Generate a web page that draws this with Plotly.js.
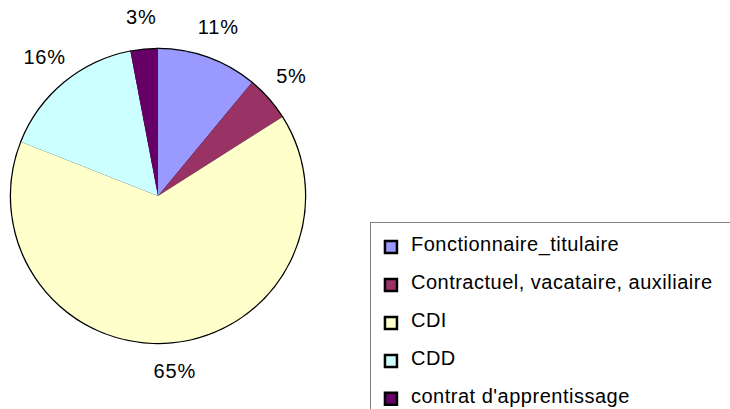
<!DOCTYPE html>
<html>
<head>
<meta charset="utf-8">
<script src="https://cdn.plot.ly/plotly-3.0.1.min.js"></script>
<style>html,body{margin:0;padding:0;background:#fff;}#chart{width:730px;height:409px;}</style>
</head>
<body>
<div id="chart"></div>
<script>
// Data
const categories = ["Fonctionnaire_titulaire", "Contractuel, vacataire, auxiliaire", "CDI", "CDD", "contrat d'apprentissage"];
const shares = [11, 5, 65, 16, 3];
const sliceColors = ["#9999FF", "#993366", "#FFFFCC", "#CCFFFF", "#660066"];

const W = 730, H = 409;
const FONT = "'Liberation Sans', Arial, sans-serif";
const legendLabels = categories.map(c => '<span style="font-size:20px;baseline-shift:6px;letter-spacing:0.5px">' + c + '&nbsp;&nbsp;&nbsp;</span>');

const pieDomain = {x: [0.0151, 0.4178], y: [0.1614, 0.8802]};
// pie geometry as Plotly derives it from the domain (margins are 0)
const pieR = Math.min(W * (pieDomain.x[1] - pieDomain.x[0]), H * (pieDomain.y[1] - pieDomain.y[0])) / 2;
const pieCx = W * (pieDomain.x[0] + pieDomain.x[1]) / 2;
const pieCy = H * (pieDomain.y[0] + pieDomain.y[1]) / 2; // from bottom

// mid-angle of every slice (clockwise from 12 o'clock), derived from the data
const total = shares.reduce((a, b) => a + b, 0);
let acc = 0;
const midAngles = shares.map(v => { const m = (acc + v / 2) / total * 2 * Math.PI; acc += v; return m; });
const pctText = shares.map(v => '<span style="letter-spacing:0.8px">' + Math.round(v / total * 100) + '%</span>');
const labelRadius = 1.21; // in pie radii

const common = {
  type: 'pie',
  labels: legendLabels,
  values: shares,
  sort: false,
  direction: 'clockwise',
  rotation: 0,
  hoverinfo: 'none',
  domain: pieDomain,
  textinfo: 'none'
};

// Outline layer (also provides the legend entries)
const outline = Object.assign({}, common, {
  marker: {colors: sliceColors, line: {color: '#000000', width: 2.5}},
  showlegend: true
});
// Fill layer without radial borders
const fill = Object.assign({}, common, {
  marker: {colors: sliceColors, line: {width: 0}},
  showlegend: false
});
// Percent labels on hidden cartesian axes scaled in pie radii around the pie centre
const labelsTrace = {
  type: 'scatter',
  mode: 'text',
  x: midAngles.map(a => labelRadius * Math.sin(a)),
  y: midAngles.map(a => labelRadius * Math.cos(a)),
  text: pctText,
  textposition: 'middle center',
  textfont: {family: FONT, size: 20, color: '#000000'},
  cliponaxis: false,
  showlegend: false,
  hoverinfo: 'none'
};

const layout = {
  width: W,
  height: H,
  margin: {l: 0, r: 0, t: 0, b: 0, autoexpand: false},
  paper_bgcolor: '#ffffff',
  plot_bgcolor: 'rgba(0,0,0,0)',
  font: {family: FONT, color: '#000000'},
  showlegend: true,
  xaxis: {range: [-pieCx / pieR, (W - pieCx) / pieR], visible: false, showgrid: false, zeroline: false, fixedrange: true},
  yaxis: {range: [-pieCy / pieR, (H - pieCy) / pieR], visible: false, showgrid: false, zeroline: false, fixedrange: true},
  legend: {
    x: 0.5068, xanchor: 'left',
    y: 0.4572, yanchor: 'top',
    bgcolor: '#ffffff',
    bordercolor: '#808080',
    borderwidth: 1,
    font: {family: FONT, size: 26.9, color: '#000000'},
    traceorder: 'normal'
  }
};

Plotly.newPlot('chart', [outline, fill, labelsTrace], layout, {staticPlot: true, displayModeBar: false});
</script>
</body>
</html>
